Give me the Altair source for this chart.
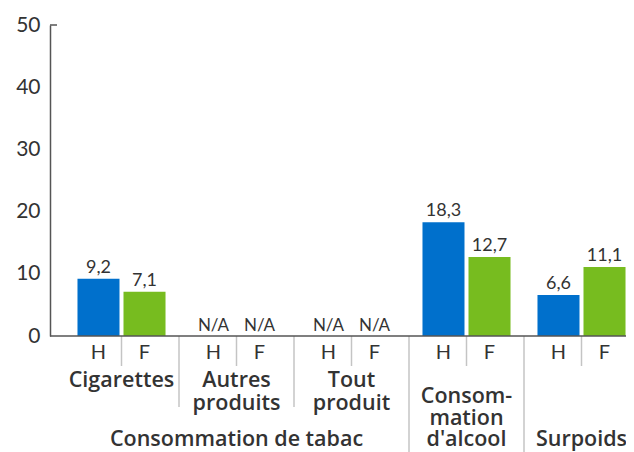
import altair as alt
import pandas as pd

groups = ["Cigarettes", "Autres produits", "Tout produit", "Consommation d'alcool", "Surpoids"]
group_lines = [["Cigarettes"], ["Autres", "produits"], ["Tout", "produit"],
               ["Consom-", "mation", "d'alcool"], ["Surpoids"]]
sexes = ["H", "F"]
values_h = [9.2, None, None, 18.3, 6.6]
values_f = [7.1, None, None, 12.7, 11.1]
y_ticks = [0, 10, 20, 30, 40, 50]
super_label = "Consommation de tabac"

BLUE = "#0070CC"
GREEN = "#77BC1F"
TXT = "#333333"
FONT = "Lato"
BFONT = "Open Sans"
BSIZE = 21.5
W, H = 576, 311

rows = []
for g, vh, vf in zip(groups, values_h, values_f):
    for s, v in (("H", vh), ("F", vf)):
        rows.append({
            "group": g, "sex": s, "value": v,
            "ypos": 0 if v is None else v,
            "label": "N/A" if v is None else f"{v:.1f}".replace(".", ","),
        })
df = pd.DataFrame(rows)
gdf = pd.DataFrame({"group": groups, "lines": group_lines, "idx": range(len(groups))})

xscale = alt.Scale(domain=groups, range=[14, 589], paddingInner=0, paddingOuter=0)
xo_scale = alt.Scale(domain=sexes, paddingInner=0.087, paddingOuter=0.293)
X = alt.X("group:N", scale=xscale, axis=None, sort=groups)
XO = alt.XOffset("sex:N", scale=xo_scale, sort=sexes)
yscale = alt.Scale(domain=[0, 50], nice=False)

base = alt.Chart(df)

bars = base.transform_filter("datum.value != null").mark_bar().encode(
    x=X, xOffset=XO,
    y=alt.Y("value:Q", scale=yscale, title=None,
            axis=alt.Axis(values=y_ticks, ticks=False, grid=False, labelFontSize=21,
                          labelColor=TXT, labelFont=FONT, labelPadding=10,
                          domainColor="#555555", domainWidth=1.5)),
    color=alt.Color("sex:N", scale=alt.Scale(domain=sexes, range=[BLUE, GREEN]), legend=None),
)

val_text = base.transform_filter("datum.value != null").mark_text(
    fontSize=18, font=FONT, color=TXT, dy=-6, baseline="alphabetic").encode(
    x=X, xOffset=XO, y=alt.Y("ypos:Q", scale=yscale), text="label:N")

na_text = base.transform_filter("datum.value == null").mark_text(
    fontSize=17, font=FONT, color=TXT, dy=-5, baseline="alphabetic").encode(
    x=X, xOffset=XO, y=alt.Y("ypos:Q", scale=yscale), text="label:N")

sex_text = base.mark_text(fontSize=20, font=FONT, color=TXT, baseline="alphabetic").encode(
    x=X, xOffset=XO, y=alt.value(H + 23), text="sex:N")

gbase = alt.Chart(gdf)
mid_rules = gbase.mark_rule(color="#c4c4c4", strokeWidth=1.5).encode(
    x=alt.X("group:N", scale=xscale, axis=None, sort=groups, bandPosition=0.5),
    y=alt.value(H), y2=alt.value(H + 30))
sep_short = gbase.transform_filter("datum.idx == 1 || datum.idx == 2").mark_rule(
    color="#c4c4c4", strokeWidth=1.5).encode(
    x=alt.X("group:N", scale=xscale, axis=None, sort=groups, bandPosition=0),
    y=alt.value(H), y2=alt.value(H + 71))
sep_long = gbase.transform_filter("datum.idx >= 3").mark_rule(
    color="#c4c4c4", strokeWidth=1.5).encode(
    x=alt.X("group:N", scale=xscale, axis=None, sort=groups, bandPosition=0),
    y=alt.value(H), y2=alt.value(H + 130))

cat_top = gbase.transform_filter("datum.idx <= 2").mark_text(
    fontSize=BSIZE, font=BFONT, fontWeight=600, color=TXT, baseline="alphabetic",
    lineHeight=23).encode(
    x=alt.X("group:N", scale=xscale, axis=None, sort=groups), y=alt.value(H + 51), text="lines")
cat_alc = gbase.transform_filter("datum.idx == 3").mark_text(
    fontSize=BSIZE, font=BFONT, fontWeight=600, color=TXT, baseline="alphabetic",
    lineHeight=21.5).encode(
    x=alt.X("group:N", scale=xscale, axis=None, sort=groups), y=alt.value(H + 67), text="lines")
cat_sur = gbase.transform_filter("datum.idx == 4").mark_text(
    fontSize=BSIZE, font=BFONT, fontWeight=600, color=TXT, baseline="alphabetic").encode(
    x=alt.X("group:N", scale=xscale, axis=None, sort=groups), y=alt.value(H + 110), text="lines")

sup_df = pd.DataFrame({"group": [groups[1]], "label": [super_label]})
sup_text = alt.Chart(sup_df).mark_text(
    fontSize=BSIZE, font=BFONT, fontWeight=600, color=TXT, baseline="alphabetic").encode(
    x=alt.X("group:N", scale=xscale, axis=None, sort=groups), y=alt.value(H + 110), text="label:N")

baseline = alt.Chart(pd.DataFrame({"v": [0]})).mark_rule(color="#555555", strokeWidth=1.5).encode(
    y=alt.Y("v:Q", scale=yscale), x=alt.value(0), x2=alt.value(W))
cap = alt.Chart(pd.DataFrame({"v": [50]})).mark_rule(color="#555555", strokeWidth=1.5).encode(
    y=alt.Y("v:Q", scale=yscale), x=alt.value(0), x2=alt.value(7))

chart = alt.layer(
    mid_rules, sep_short, sep_long, bars, val_text, na_text, sex_text,
    cat_top, cat_alc, cat_sur, sup_text, baseline, cap
).properties(
    width=W, height=H,
    autosize=alt.AutoSizeParams(type="none"),
    padding={"left": 42, "top": 17, "right": 0, "bottom": 116},
).configure_view(stroke=None)

chart.save("out.html", embed_options={"renderer": "svg", "actions": False})
